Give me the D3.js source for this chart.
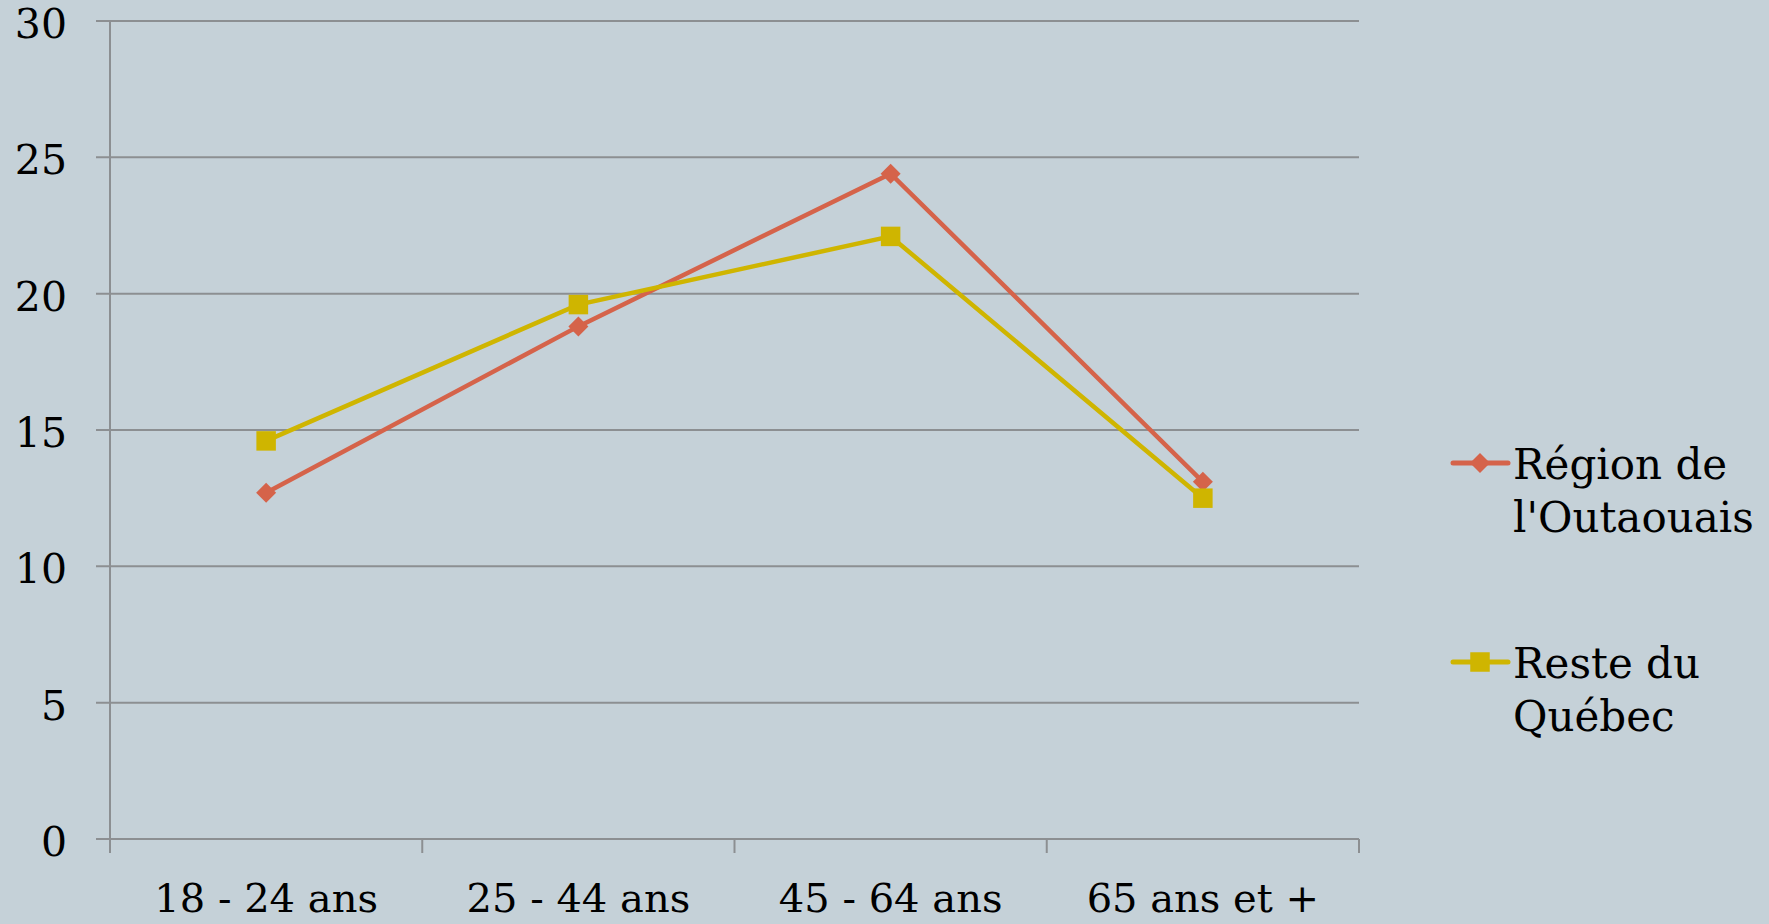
<!DOCTYPE html>
<html>
<head>
<meta charset="utf-8">
<script src="https://cdn.jsdelivr.net/npm/d3@7"></script>
<style>
  body { margin: 0; background: #c5d1d8; }
  svg text { font-family: Georgia, "DejaVu Serif", serif; fill: #000; }
</style>
</head>
<body>
<div id="chart"></div>
<script>
var categories = ["18 - 24 ans", "25 - 44 ans", "45 - 64 ans", "65 ans et +"];
var outaouais = [12.7, 18.8, 24.4, 13.1];
var resteQuebec = [14.6, 19.6, 22.1, 12.5];
var yTicks = [0, 5, 10, 15, 20, 25, 30];

var svgWidth = 1769;
var svgHeight = 924;
var margin = { top: 21, right: 410, bottom: 85, left: 110 };
var width = svgWidth - margin.left - margin.right;
var height = svgHeight - margin.top - margin.bottom;

var svg = d3.select("#chart")
    .append("svg")
    .attr("width", svgWidth)
    .attr("height", svgHeight);

svg.append("rect")
    .attr("width", svgWidth)
    .attr("height", svgHeight)
    .attr("fill", "#c5d1d8");

var chartGroup = svg.append("g")
    .attr("transform", `translate(${margin.left}, ${margin.top})`);

var xScale = d3.scaleBand()
    .domain(categories)
    .range([0, width]);

var yScale = d3.scaleLinear()
    .domain([0, 30])
    .range([height, 0]);

// gridlines
chartGroup.append("g")
    .selectAll("line")
    .data(yTicks)
    .join("line")
    .attr("x1", -14)
    .attr("x2", width)
    .attr("y1", d => yScale(d))
    .attr("y2", d => yScale(d))
    .attr("stroke", "#8c8f92")
    .attr("stroke-width", 2);

// y axis
var yAxis = d3.axisLeft(yScale).tickValues(yTicks).tickSize(0).tickPadding(43);
var yG = chartGroup.append("g").call(yAxis);
yG.select(".domain").remove();
yG.selectAll("text")
    .style("font-size", "41px")
    .style("font-family", 'Georgia, "DejaVu Serif", serif')
    .attr("dy", "0.4em");

chartGroup.append("line")
    .attr("x1", 0).attr("x2", 0)
    .attr("y1", 0).attr("y2", height + 14)
    .attr("stroke", "#8c8f92")
    .attr("stroke-width", 2);

// x axis ticks at band edges
var edges = categories.map(c => xScale(c)).concat([width]);
chartGroup.append("g")
    .selectAll("line")
    .data(edges)
    .join("line")
    .attr("x1", d => d).attr("x2", d => d)
    .attr("y1", height).attr("y2", height + 14)
    .attr("stroke", "#8c8f92")
    .attr("stroke-width", 2);

chartGroup.append("g")
    .selectAll("text")
    .data(categories)
    .join("text")
    .attr("x", d => xScale(d) + xScale.bandwidth() / 2)
    .attr("y", height + 73)
    .attr("text-anchor", "middle")
    .style("font-size", "40px")
    .text(d => d);

var series = [
    { name: ["Région de", "l'Outaouais"], values: outaouais, color: "#d5634a", diamond: true },
    { name: ["Reste du", "Québec"], values: resteQuebec, color: "#cfb500", diamond: false }
];

var line = d3.line()
    .x((d, i) => xScale(categories[i]) + xScale.bandwidth() / 2)
    .y(d => yScale(d));

series.forEach(s => {
    chartGroup.append("path")
        .datum(s.values)
        .attr("fill", "none")
        .attr("stroke", s.color)
        .attr("stroke-width", 4.5)
        .attr("d", line);
});

series.forEach(s => {
    var sym = d3.symbol().type(d3.symbolSquare).size(s.diamond ? 200 : 380);
    chartGroup.append("g")
        .selectAll("path")
        .data(s.values)
        .join("path")
        .attr("d", sym)
        .attr("transform", (d, i) => {
            var t = `translate(${xScale(categories[i]) + xScale.bandwidth() / 2}, ${yScale(d)})`;
            return s.diamond ? t + " rotate(45)" : t;
        })
        .attr("fill", s.color);
});

// legend
var legendY = [463, 662];
series.forEach((s, k) => {
    var g = svg.append("g").attr("transform", `translate(1453, ${legendY[k]})`);
    g.append("line")
        .attr("x1", 0).attr("x2", 55)
        .attr("stroke", s.color)
        .attr("stroke-width", 5)
        .attr("stroke-linecap", "round");
    g.append("path")
        .attr("transform", s.diamond ? "translate(27,0) rotate(45)" : "translate(27,0)")
        .attr("d", d3.symbol().type(d3.symbolSquare).size(s.diamond ? 200 : 380))
        .attr("fill", s.color);
    s.name.forEach((t, j) => {
        g.append("text")
            .attr("x", 60)
            .attr("y", 16 + j * 53)
            .style("font-size", "42px")
            .text(t);
    });
});
</script>
</body>
</html>
